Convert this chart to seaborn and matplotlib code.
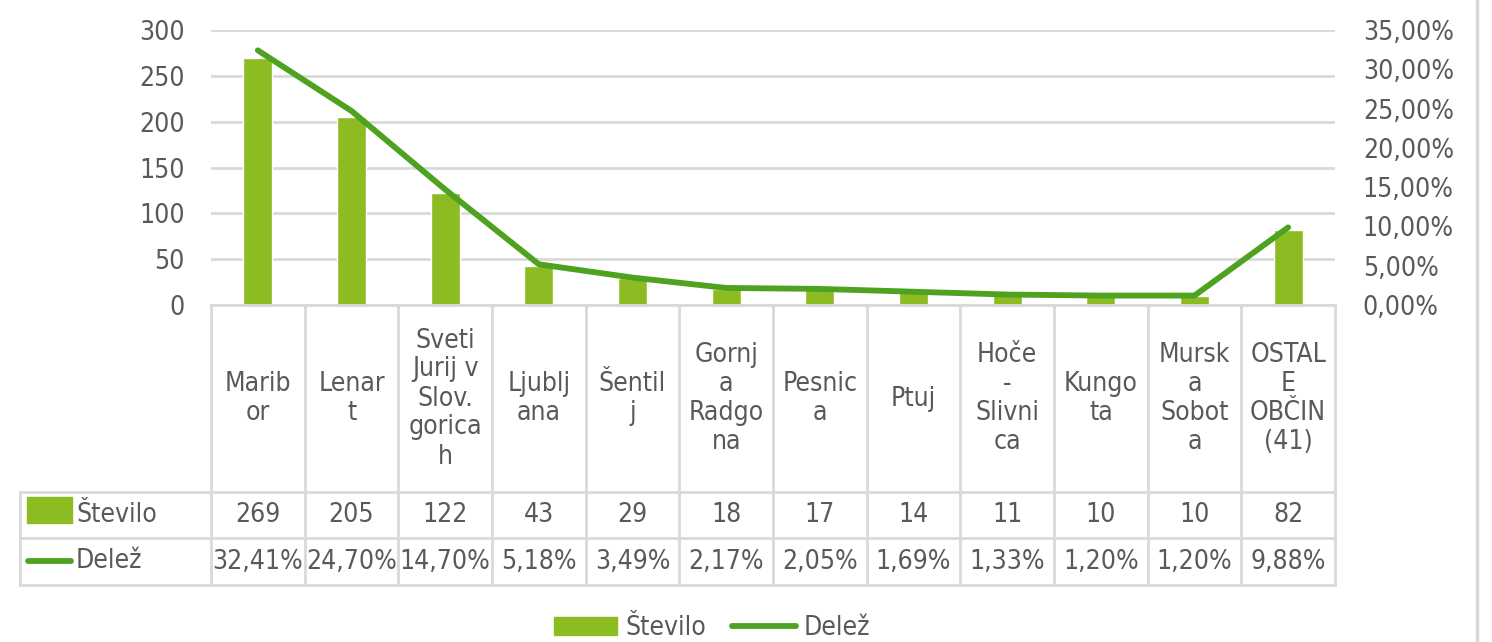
import numpy as np
import pandas as pd
import matplotlib
matplotlib.use("Agg")
import matplotlib.pyplot as plt
import seaborn as sns
from matplotlib.lines import Line2D
from matplotlib.patches import Rectangle
from matplotlib.ticker import FixedLocator, FuncFormatter

# ── Data ────────────────────────────────────────────────────────────────────
CATEGORIES = [
    "Marib\nor", "Lenar\nt", "Sveti\nJurij v\nSlov.\ngorica\nh", "Ljublj\nana",
    "Šentil\nj", "Gornj\na\nRadgo\nna", "Pesnic\na", "Ptuj", "Hoče\n-\nSlivni\nca",
    "Kungo\nta", "Mursk\na\nSobot\na", "OSTAL\nE\nOBČIN\n(41)",
]
STEVILO = [269, 205, 122, 43, 29, 18, 17, 14, 11, 10, 10, 82]
DELEZ = [32.41, 24.70, 14.70, 5.18, 3.49, 2.17, 2.05, 1.69, 1.33, 1.20, 1.20, 9.88]
LEFT_TICKS = [0, 50, 100, 150, 200, 250, 300]
RIGHT_TICKS = [0, 5, 10, 15, 20, 25, 30, 35]
SERIES = ["Število", "Delež"]

# ── Style ───────────────────────────────────────────────────────────────────
W, H = 1492, 642
BAR_COLOR  = "#8cbb22"
LINE_COLOR = "#4ea21f"
TEXT_COLOR = "#595959"
GRID_COLOR = "#d9d9d9"
FS = 19
LW = 4.2

sns.set_theme(style="white")
plt.rcParams["font.family"] = ["DejaVu Sans"]
plt.rcParams["font.stretch"] = "condensed"
plt.rcParams["text.color"] = TEXT_COLOR


def pct(v):
    return f"{v:.2f}%".replace(".", ",")


df = pd.DataFrame({"obcina": CATEGORIES, "stevilo": STEVILO, "delez": DELEZ})
n = len(df)

fig = plt.figure(figsize=(W / 100, H / 100), dpi=100)

# plot area (pixels 211..1335 x 30..305)
PL, PR, PT, PB = 211, 1335, 30, 305
ax = fig.add_axes([PL / W, 1 - PB / H, (PR - PL) / W, (PB - PT) / H])
sns.barplot(data=df, x="obcina", y="stevilo", color=BAR_COLOR, saturation=1,
            width=0.31, ax=ax)
if ax.get_legend() is not None:
    ax.get_legend().remove()
ax.set_xlim(-0.5, n - 0.5)
ax.set_ylim(LEFT_TICKS[0], LEFT_TICKS[-1])
ax.yaxis.set_major_locator(FixedLocator(LEFT_TICKS))
ax.set_xticks([])
ax.set_xlabel("")
ax.set_ylabel("")
ax.yaxis.grid(True, color=GRID_COLOR, lw=2)
ax.set_axisbelow(True)
ax.tick_params(axis="y", length=0, pad=19, labelsize=FS, labelcolor=TEXT_COLOR)
for s in ax.spines.values():
    s.set_visible(False)

ax2 = ax.twinx()
sns.lineplot(x=np.arange(n), y=df["delez"], ax=ax2, color=LINE_COLOR, lw=LW,
             legend=False, solid_capstyle="round")
ax2.set_ylim(RIGHT_TICKS[0], RIGHT_TICKS[-1])
ax2.yaxis.set_major_locator(FixedLocator(RIGHT_TICKS))
ax2.yaxis.set_major_formatter(FuncFormatter(lambda v, _: pct(v)))
ax2.set_ylabel("")
ax2.tick_params(axis="y", length=0, pad=20, labelsize=FS, labelcolor=TEXT_COLOR)
for s in ax2.spines.values():
    s.set_visible(False)

# ── Data table below the plot ───────────────────────────────────────────────
UNIT = (PR - PL) / n
TL, TB = 20, 585
tax = fig.add_axes([TL / W, 1 - TB / H, (PR - TL) / W, (TB - PB) / H])
xmin = -0.5 - (PL - TL) / UNIT
tax.set_xlim(xmin, n - 0.5)
tax.set_ylim(TB, PB)
tax.axis("off")


def px2x(px):
    return -0.5 + (px - PL) / UNIT


ROW1, ROW2 = 492, 538
kw = dict(color=GRID_COLOR, lw=2, clip_on=False, solid_capstyle="projecting")
tax.plot([-0.5, n - 0.5], [PB, PB], **kw)
for y in (ROW1, ROW2, TB):
    tax.plot([xmin, n - 0.5], [y, y], **kw)
for i in range(n + 1):
    tax.plot([i - 0.5, i - 0.5], [PB, TB], **kw)
tax.plot([xmin, xmin], [ROW1, TB], **kw)

for i, row in df.iterrows():
    tax.text(i, (PB + ROW1) / 2, row["obcina"], ha="center", va="center",
             fontsize=FS, linespacing=1.15)
    tax.text(i, (ROW1 + ROW2) / 2, str(row["stevilo"]), ha="center", va="center",
             fontsize=FS)
    tax.text(i, (ROW2 + TB) / 2, pct(row["delez"]), ha="center", va="center",
             fontsize=FS)

# series keys in the table header column
tax.add_patch(Rectangle((px2x(27), 523), px2x(72) - px2x(27), -26,
                        color=BAR_COLOR, clip_on=False))
tax.plot([px2x(28), px2x(71)], [561, 561], color=LINE_COLOR, lw=LW,
         solid_capstyle="round", clip_on=False)
tax.text(px2x(76), (ROW1 + ROW2) / 2, SERIES[0], ha="left", va="center", fontsize=FS)
tax.text(px2x(76), (ROW2 + TB) / 2, SERIES[1], ha="left", va="center", fontsize=FS)

# ── Legend ──────────────────────────────────────────────────────────────────
handles = [Rectangle((0, 0), 1, 1, color=BAR_COLOR),
           Line2D([], [], color=LINE_COLOR, lw=LW, solid_capstyle="round")]
fig.legend(handles, SERIES, loc="center", bbox_to_anchor=(712 / W, 14 / H),
           ncol=2, frameon=False, fontsize=FS, handlelength=2.4,
           handletextpad=0.3, columnspacing=1.0)

# chart frame edge on the right
fig.add_artist(Line2D([1477 / W, 1477 / W], [0, 1], color=GRID_COLOR, lw=2.5,
                      transform=fig.transFigure))

fig.savefig("out.png", dpi=100)
